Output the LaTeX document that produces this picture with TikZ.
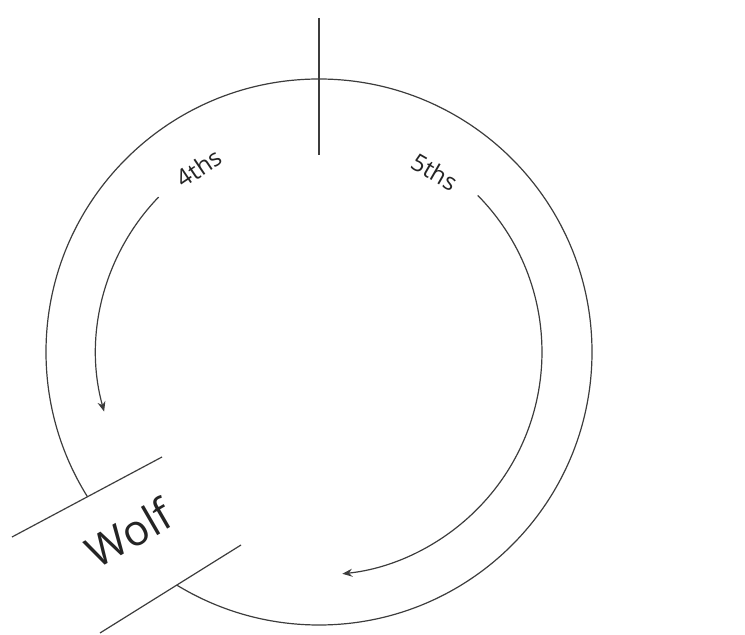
\documentclass[tikz,border=0pt]{standalone}
\usepackage{fontspec}
\setmainfont{Open Sans}
\usepackage{tikz}
\usetikzlibrary{arrows.meta, calc}
\definecolor{inkgray}{HTML}{3C3C3C}
\tikzset{
	ring/.style={draw=inkgray, line width=1.2pt},
	cycarrow/.style={draw=inkgray, line width=1.2pt, -{Stealth[length=10pt, width=8pt]}},
	cyclabel/.style={text=inkgray!60!black, font=\fontsize{24}{28}\selectfont, inner sep=1pt},
	wolflabel/.style={text=inkgray!60!black, font=\fontsize{43}{48}\selectfont, inner sep=1pt},
}

\begin{document}
\begin{tikzpicture}[x=1pt, y=1pt]
	\useasboundingbox (0,0) rectangle (745,635);
	\coordinate (c) at (319,283);
	% circle of fifths ring and top mark
	\draw[ring] (c) circle[radius=273];
	\coordinate (topA) at (319,617);
	\coordinate (topB) at (319,480);
	\draw[ring] (topA) -- (topB);
	% direction arrows
	\draw[cycarrow] ($(c)+(136:223)$) arc[start angle=136, end angle=195.5, radius=223];
	\draw[cycarrow] ($(c)+(44.6:223)$) arc[start angle=44.6, end angle=-84, radius=223];
	\node[cyclabel, rotate=34] (fourths) at (199,467) {4ths};
	\node[cyclabel, rotate=-30] (fifths) at (435,463) {5ths};
	% wolf band
	\coordinate (bandA) at (12,98);
	\coordinate (bandB) at (162,178);
	\coordinate (bandC) at (100,2);
	\coordinate (bandD) at (241,90);
	\fill[white] (bandA) -- (bandB) -- (bandD) -- (bandC) -- cycle;
	\draw[ring] (bandA) -- (bandB);
	\draw[ring] (bandC) -- (bandD);
	\node[wolflabel, rotate=30] (wolf) at (129,102) {Wolf};
\end{tikzpicture}
\end{document}
